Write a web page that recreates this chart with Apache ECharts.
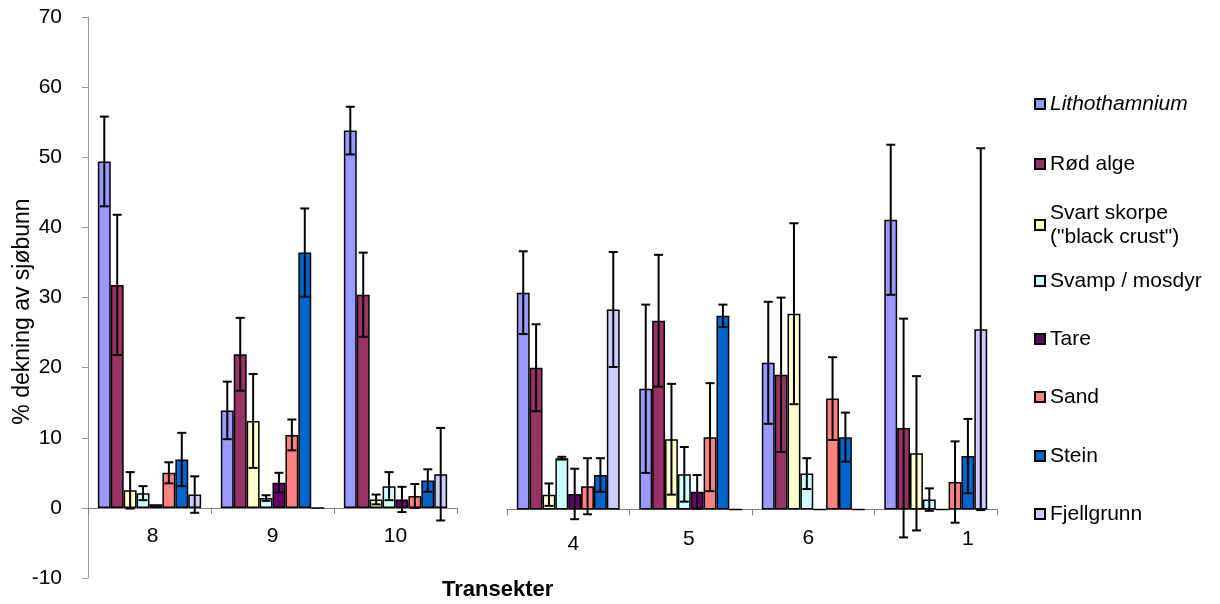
<!DOCTYPE html>
<html>
<head>
<meta charset="utf-8">
<script src="https://cdn.jsdelivr.net/npm/echarts@6/dist/echarts.min.js"></script>
<style>
  html, body { margin: 0; padding: 0; background: #fff; }
  #chart { width: 1220px; height: 604px; }
</style>
</head>
<body>
<div id="chart"></div>
<script>
// Transects, in the order they are plotted; the first three sit in the left panel.
const transects = ['8', '9', '10', '4', '5', '6', '1'];
const leftPanelCount = 3;

// Y axis scale (% cover)
const yMin = -10;
const yMax = 70;
const yStep = 10;

// Mean % cover of the sea floor per transect, with error (±) per transect
const lithothamnium    = [49.4, 13.9, 53.8, 30.9, 17.2, 20.9, 41.3];
const lithothamniumErr = [ 6.4,  4.1,  3.4,  5.9, 12.0,  8.7, 10.7];
const rodAlge          = [31.8, 21.9, 30.4, 20.2, 26.9, 19.2, 11.6];
const rodAlgeErr       = [10.0,  5.2,  6.0,  6.2,  9.4, 11.0, 15.6];
const svartSkorpe      = [ 2.5, 12.4,  1.2,  2.1, 10.0, 27.9,  8.0];
const svartSkorpeErr   = [ 2.6,  6.7,  0.7,  1.6,  7.9, 12.9, 11.0];
const svampMosdyr      = [ 2.1,  1.4,  3.1,  7.3,  5.0,  5.1,  1.4];
const svampMosdyrErr   = [ 1.0,  0.4,  2.0,  0.2,  3.9,  2.2,  1.6];
const tare             = [ 0.5,  3.6,  1.2,  2.2,  2.5,  0.0,  0.0];
const tareErr          = [ 0.0,  1.4,  1.8,  3.6,  2.4,  0.0,  0.0];
const sand             = [ 5.0, 10.4,  1.7,  3.3, 10.3, 15.8,  3.9];
const sandErr          = [ 1.5,  2.2,  1.7,  4.0,  7.7,  5.9,  5.8];
const stein            = [ 6.9, 36.4,  3.9,  4.9, 27.6, 10.3,  7.6];
const steinErr         = [ 3.8,  6.3,  1.6,  2.4,  1.6,  3.5,  5.3];
const fjellgrunn       = [ 1.9,  0.0,  4.8, 28.5,  0.0,  0.0, 25.7];
const fjellgrunnErr    = [ 2.6,  0.0,  6.6,  8.2,  0.0,  0.0, 25.8];

const FONT = '"Liberation Sans", Arial, Helvetica, sans-serif';
const CATEGORY_GAP = 0.16;
const CHART_H = 604;

const groups = [
  { name: 'Lithothamnium', color: '#9999FF', mean: lithothamnium, err: lithothamniumErr, italic: true },
  { name: 'Rød alge', color: '#993366', mean: rodAlge, err: rodAlgeErr },
  { name: 'Svart skorpe ("black crust")', color: '#FFFFCC', mean: svartSkorpe, err: svartSkorpeErr },
  { name: 'Svamp / mosdyr', color: '#CCFFFF', mean: svampMosdyr, err: svampMosdyrErr },
  { name: 'Tare', color: '#660066', mean: tare, err: tareErr },
  { name: 'Sand', color: '#FF8080', mean: sand, err: sandErr },
  { name: 'Stein', color: '#0066CC', mean: stein, err: steinErr },
  { name: 'Fjellgrunn', color: '#CCCCFF', mean: fjellgrunn, err: fjellgrunnErr }
];

// Two panels sharing the same vertical scale
const panels = [
  { start: 0, end: leftPanelCount },
  { start: leftPanelCount, end: transects.length }
];
const gridBoxes = [
  { left: 88, right: 763, top: 17, bottom: 26, outerBoundsMode: 'none', containLabel: false },
  { left: 507, right: 223, top: 18.5, bottom: 24.5, outerBoundsMode: 'none', containLabel: false }
];

// Small nudges of individual transect labels: [dx, dy]
const labelNudge = { '8': [3, 0], '4': [5, 6], '5': [-2, 1], '6': [-5, -4], '1': [32, 1] };

function labelRich() {
  const rich = {};
  transects.forEach((t, i) => {
    const n = labelNudge[t] || [0, 0];
    const dx = n[0], dy = n[1];
    rich['t' + i] = {
      fontSize: 21, fontFamily: FONT, color: '#000',
      padding: [Math.max(dy, 0), dx < 0 ? -2 * dx : 0, dy < 0 ? -dy : 0, dx > 0 ? 2 * dx : 0]
    };
  });
  return rich;
}
const rich = labelRich();

// The category axis is lifted from the bottom of the grid to the value 0.
function zeroOffset(box) {
  const h = CHART_H - box.top - box.bottom;
  return -h * (0 - yMin) / (yMax - yMin);
}

const xAxes = panels.map((p, pi) => ({
  type: 'category',
  gridIndex: pi,
  position: 'bottom',
  offset: zeroOffset(gridBoxes[pi]),
  data: transects.slice(p.start, p.end),
  axisLine: { onZero: false, lineStyle: { color: '#808080', width: 1.2 } },
  axisTick: { show: true, length: 6, lineStyle: { color: '#808080' } },
  axisLabel: {
    margin: 18,
    interval: 0,
    formatter: (v) => '{t' + transects.indexOf(v) + '|' + v + '}',
    rich: rich
  },
  splitLine: { show: false }
}));

const yAxes = panels.map((p, pi) => ({
  type: 'value',
  gridIndex: pi,
  min: yMin, max: yMax, interval: yStep,
  show: pi === 0,
  axisLine: { show: true, lineStyle: { color: '#999999' } },
  axisTick: { show: true, length: 6, lineStyle: { color: '#999999' } },
  axisLabel: { fontSize: 21, fontFamily: FONT, color: '#000', margin: 26 },
  splitLine: { show: false },
  name: pi === 0 ? '% dekning av sjøbunn' : '',
  nameLocation: 'middle',
  nameGap: 54,
  nameMoveOverlap: false,
  nameTextStyle: { fontSize: 23, fontFamily: FONT, color: '#000', padding: [0, 28, 0, 0] }
}));

function errorBarRenderer(slot) {
  return function (params, api) {
    const cat = api.value(0);
    const m = api.value(1);
    const e = api.value(2);
    if (!e) return null;
    const band = api.size([1, 0])[0];
    const inner = band * (1 - CATEGORY_GAP);
    const w = inner / groups.length;
    const cx = api.coord([cat, 0])[0] - inner / 2 + w * (slot + 0.5);
    const yHi = api.coord([cat, m + e])[1];
    const yLo = api.coord([cat, m - e])[1];
    const cap = 4.5;
    const style = { stroke: '#000', lineWidth: 2 };
    return {
      type: 'group',
      children: [
        { type: 'line', shape: { x1: cx, y1: yHi, x2: cx, y2: yLo }, style },
        { type: 'line', shape: { x1: cx - cap, y1: yHi, x2: cx + cap, y2: yHi }, style },
        { type: 'line', shape: { x1: cx - cap, y1: yLo, x2: cx + cap, y2: yLo }, style }
      ]
    };
  };
}

const series = [];
panels.forEach((p, pi) => {
  groups.forEach((g) => {
    series.push({
      type: 'bar',
      name: g.name,
      xAxisIndex: pi, yAxisIndex: pi,
      data: g.mean.slice(p.start, p.end),
      barGap: '0%',
      barCategoryGap: (CATEGORY_GAP * 100) + '%',
      itemStyle: { color: g.color, borderColor: '#000', borderWidth: 1.5 },
      emphasis: { disabled: true },
      silent: true,
      animation: false
    });
  });
});
panels.forEach((p, pi) => {
  groups.forEach((g, gi) => {
    const data = [];
    for (let i = p.start; i < p.end; i++) data.push([i - p.start, g.mean[i], g.err[i]]);
    series.push({
      type: 'custom',
      xAxisIndex: pi, yAxisIndex: pi,
      data: data,
      renderItem: errorBarRenderer(gi),
      encode: { x: 0, y: 1 },
      silent: true,
      animation: false,
      z: 5
    });
  });
});

// One legend block per entry, stacked down the right side
const legendCenters = [99, 159, 220, 276, 334, 392, 451, 509];
const legends = groups.map((g, gi) => {
  const twoLine = g.name.indexOf(' (') >= 0;
  const h = twoLine ? 48 : 24;
  return {
    orient: 'vertical',
    left: 1029,
    top: legendCenters[gi] - h / 2,
    itemWidth: 10, itemHeight: 10, itemGap: 0,
    icon: 'rect',
    selectedMode: false,
    data: [{ name: g.name, textStyle: g.italic ? { fontStyle: 'italic' } : {} }],
    formatter: (name) => name.replace(' (', '\n('),
    textStyle: { fontSize: 21, fontFamily: FONT, color: '#000', lineHeight: 24 }
  };
});

const chart = echarts.init(document.getElementById('chart'), null, { renderer: 'canvas' });
chart.setOption({
  backgroundColor: '#fff',
  animation: false,
  grid: gridBoxes,
  xAxis: xAxes,
  yAxis: yAxes,
  legend: legends,
  series: series,
  graphic: [{
    type: 'text',
    left: 442, top: 579,
    style: { text: 'Transekter', font: 'bold 22px ' + FONT, fill: '#000' }
  }]
});
</script>
</body>
</html>
